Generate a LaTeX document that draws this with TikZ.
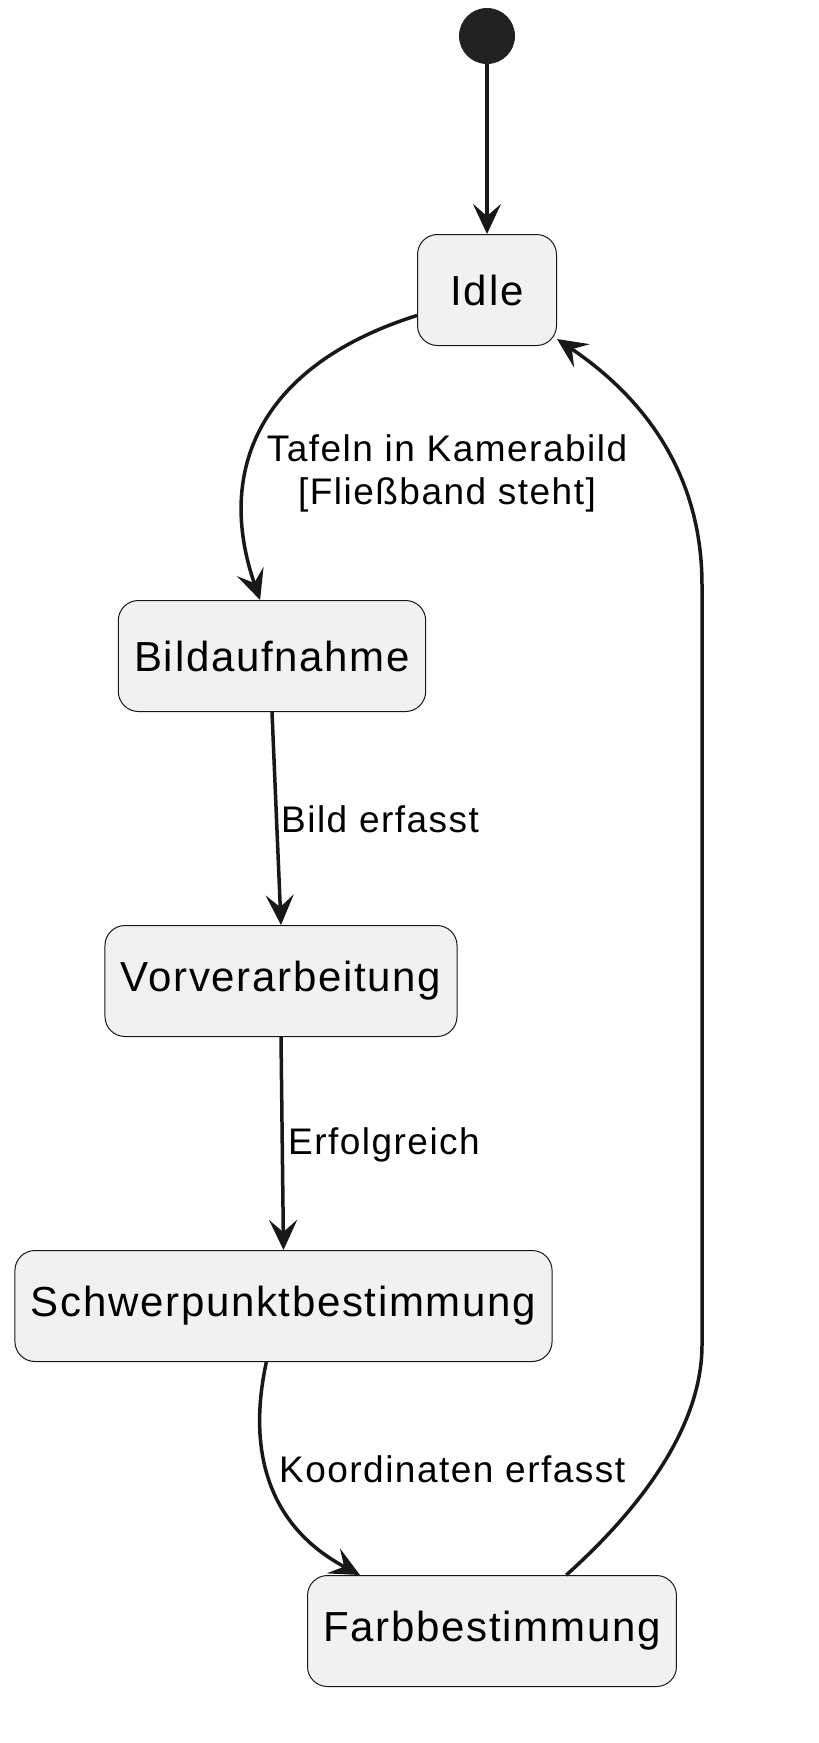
\documentclass[tikz,border=0pt]{standalone}
\usepackage{fontspec}
\setmainfont{Liberation Sans}
\newfontfamily\statefont[LetterSpace=4]{Liberation Sans}
\usetikzlibrary{arrows.meta}
\definecolor{boxfill}{HTML}{F1F1F1}
\definecolor{ink}{HTML}{181818}
\definecolor{dot}{HTML}{222222}
\tikzset{
  statebox/.style={draw=ink,line width=1pt,fill=boxfill,rounded corners=20pt,
    minimum height=111pt,minimum width=139pt,inner xsep=16pt,
    font=\statefont\fontsize{42}{50}\selectfont},
  trans/.style={draw=ink,line width=3.5pt,-{Stealth[length=30pt,width=28pt,inset=12pt]}},
  lbl/.style={inner sep=0pt,font=\statefont\fontsize{37}{43}\selectfont}
}
\begin{document}
\begin{tikzpicture}[x=1pt,y=-1pt]
       \useasboundingbox(0,0)rectangle(819,1743);
       \node[circle,fill=dot,minimum size=56pt,inner sep=0pt](start)at(487,36){};%開始
       \node[statebox](idle)at(487,290){Idle};
       \node[statebox](bild)at(272,656){Bildaufnahme};
       \node[statebox](vor)at(281,981){Vorverarbeitung};
       \node[statebox](schwer)at(283.5,1306){Schwerpunktbestimmung};
       \node[statebox](farb)at(492,1631){Farbbestimmung};

       \draw[trans](start)--(idle);
       \draw[trans](idle.200)..controls(260,365)and(215,470)..(bild.102);
       \draw[trans](bild.south)--(vor.north);
       \draw[trans](vor.south)--(schwer.north);
       \draw[trans](schwer.253)..controls(245,1460)and(275,1530)..(farb.157);
       \draw[trans](farb.37)..controls(650,1500)and(702,1420)..(702,1345)
           --(702,585)..controls(702,470)and(640,395)..(idle.325);%戻り

       \node[lbl,align=center](tafeln)at(447,473){Tafeln in Kamerabild\\{}[Fließband steht]};
       \node[lbl,anchor=west](erfasst)at(281,819){Bild erfasst};
       \node[lbl,anchor=west](erfolg)at(288,1145){Erfolgreich};
       \node[lbl,anchor=west](koord)at(279,1469){Koordinaten erfasst};
\end{tikzpicture}
\end{document}
